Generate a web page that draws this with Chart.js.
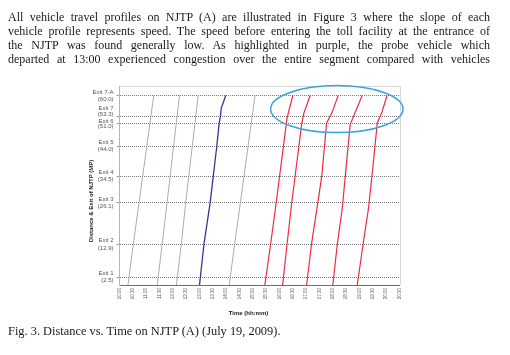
<!DOCTYPE html>
<html><head><meta charset="utf-8">
<script src="https://cdn.jsdelivr.net/npm/chart.js@4/dist/chart.umd.min.js"></script>
<style>
html,body{margin:0;padding:0;background:#fff;width:510px;height:355px;overflow:hidden;}
#para{position:absolute;left:8px;top:9.5px;width:482px;font-family:"Liberation Serif","Times New Roman",serif;font-size:12px;line-height:14.2px;color:#1a1a1a;}
#para div{text-align:justify;text-align-last:justify;}
#cap{position:absolute;left:8px;top:323.8px;font-family:"Liberation Serif","Times New Roman",serif;font-size:12.4px;line-height:14.2px;color:#1a1a1a;white-space:nowrap;}
#c{position:absolute;left:0;top:0;}
</style></head>
<body>
<canvas id="c" width="510" height="355"></canvas>
<div id="para">
<div>All vehicle travel profiles on NJTP (A) are illustrated in Figure 3 where the slope of each</div>
<div>vehicle profile represents speed. The speed before entering the toll facility at the entrance of</div>
<div>the NJTP was found generally low. As highlighted in purple, the probe vehicle which</div>
<div>departed at 13:00 experienced congestion over the entire segment compared with vehicles</div>
</div>
<div id="cap">Fig. 3. Distance vs. Time on NJTP (A) (July 19, 2009).</div>
<script>
// Exits (milepost) on the y axis
const exitNames = ['Exit 1','Exit 2','Exit 3','Exit 4','Exit 5','Exit 6','Exit 7','Exit 7-A'];
const exitMiles = [2.5, 12.9, 26.1, 34.5, 44.0, 51.0, 53.3, 60.0];
// Time tick labels on the x axis
const timeTickLabels = ['10:00','10:30','11:00','11:30','12:00','12:30','13:00','13:30','14:00','14:30','15:00','15:30','16:00','16:30','17:00','17:30','18:00','18:30','19:00','19:30','20:00','20:30'];
// Vehicle profiles: [milepost, time in minutes after midnight]
const grey1  = [[0,619],[12.9,631],[26.1,644],[60,677]];
const grey2  = [[0,685],[12.9,696],[26.1,707],[60,735]];
const grey3  = [[0,728],[12.9,739],[26.1,749],[60,777]];
const probe13 = [[0,780],[12.9,790],[26.1,804],[34.5,811],[44,819],[51,824],[53.3,827],[56,829],[60,839]];
const grey4  = [[0,847],[12.9,859],[26.1,872],[60,905]];
const red1 = [[0,927],[12.9,940],[25.4,952],[52.9,977],[60,990]];
const red2 = [[0,967],[12.9,977],[25.4,987],[51,1010],[54.5,1015],[60,1029]];
const red3 = [[0,1021],[12.9,1032],[24,1044],[34.4,1055],[51.3,1066],[54.5,1078],[60,1092]];
const red4 = [[0,1080],[12.9,1090],[24,1101],[34.4,1108],[50.8,1119],[54.5,1130],[60,1146]];
const red5 = [[0,1135],[12.9,1148],[24,1160],[34.4,1168],[51.3,1180],[54.5,1190],[60,1202]];
// highlight ellipse (time centre, mile centre, time half-width, mile half-height)
const highlight = {t:1089, mile:55.7, dt:149, dm:7.45};

const toMin = s => { const p = s.split(':').map(Number); return p[0]*60 + p[1]; };
const pts = arr => arr.map(([m,t]) => ({x:t, y:m}));

const GREY = '#a9a9c3', PURPLE = '#3f2f98', RED = '#ee2b3f';
const mk = (arr, color, w) => ({data: pts(arr), borderColor: color, borderWidth: w, pointRadius: 0, tension: 0, fill: false});

// the two closely spaced exits (7 and 6) have their labels nudged apart
const yLabel = (i) => {
  const lines = [exitNames[i], '(' + exitMiles[i].toFixed(1) + ')'];
  if (exitNames[i] === 'Exit 7') return lines.concat(['', '']);
  return lines;
};
const tightLabel = (i) => exitNames[i] === 'Exit 7' || exitNames[i] === 'Exit 6';

const extras = {
  id: 'extras',
  beforeDatasetsDraw(chart) {
    const {ctx, chartArea: a} = chart;
    ctx.save();
    ctx.strokeStyle = '#d6d6d6'; ctx.lineWidth = 1;
    ctx.beginPath();
    ctx.moveTo(Math.round(a.left), Math.round(a.top) + 0.5);
    ctx.lineTo(Math.round(a.right) + 0.5, Math.round(a.top) + 0.5);
    ctx.lineTo(Math.round(a.right) + 0.5, Math.round(a.bottom));
    ctx.stroke();
    ctx.restore();
  },
  afterDraw(chart) {
    const {ctx, chartArea: a, scales: {x, y}} = chart;
    ctx.save();
    const cx = x.getPixelForValue(highlight.t), cy = y.getPixelForValue(highlight.mile);
    const rx = x.getPixelForValue(highlight.t + highlight.dt) - cx;
    const ry = cy - y.getPixelForValue(highlight.mile + highlight.dm);
    ctx.strokeStyle = '#3aa6d8'; ctx.lineWidth = 1.5;
    ctx.beginPath(); ctx.ellipse(cx, cy, rx, ry, 0, 0, Math.PI*2); ctx.stroke();
    ctx.fillStyle = '#222';
    ctx.font = 'bold 6px "Liberation Sans", Arial, sans-serif';
    ctx.textAlign = 'center'; ctx.textBaseline = 'middle';
    ctx.fillText('Time (hh:mm)', (a.left + a.right)/2 - 11, 313);
    ctx.translate(91, 201); ctx.rotate(-Math.PI/2);
    ctx.fillText('Distance & Exit of NJTP (MP)', 0, 0);
    ctx.restore();
  }
};

new Chart(document.getElementById('c'), {
  type: 'line',
  data: {datasets: [
    mk(grey1, GREY, 1), mk(grey2, GREY, 1), mk(grey3, GREY, 1),
    mk(probe13, PURPLE, 1.3), mk(grey4, GREY, 1),
    mk(red1, RED, 1.2), mk(red2, RED, 1.2), mk(red3, RED, 1.2), mk(red4, RED, 1.2), mk(red5, RED, 1.2)
  ]},
  options: {
    responsive: false, animation: false, devicePixelRatio: 1,
    layout: {padding: {left: 88.5, right: 110.5, top: 86, bottom: 50}},
    plugins: {legend: {display: false}, tooltip: {enabled: false}},
    scales: {
      x: {
        type: 'linear', min: toMin('10:00'), max: toMin('20:30'),
        afterBuildTicks: s => { s.ticks = timeTickLabels.map(l => ({value: toMin(l)})); },
        afterFit: s => { s.height = 20; },
        ticks: {autoSkip: false, minRotation: 90, maxRotation: 90, padding: 3, color: '#555',
          font: {size: 4.5, family: '"Liberation Sans", Arial, sans-serif'},
          callback: (v, i) => timeTickLabels[i]},
        grid: {drawOnChartArea: false, drawTicks: false},
        border: {display: true, color: '#6e6e6e', width: 1}
      },
      y: {
        type: 'linear', min: 0, max: 63,
        afterBuildTicks: s => { s.ticks = exitMiles.map(v => ({value: v})); },
        afterFit: s => { s.width = 31; },
        ticks: {autoSkip: false, padding: 3, color: '#555',
          font: (ctx) => ({size: 6, family: '"Liberation Sans", Arial, sans-serif',
            lineHeight: (ctx.index !== undefined && tightLabel(ctx.index)) ? '5.5px' : 1.2}),
          callback: (v, i) => yLabel(i)},
        grid: {color: '#7a7a7a', lineWidth: 1, drawTicks: true, tickLength: 3, tickColor: '#9a9a9a'},
        border: {display: true, color: '#b5b5b5', width: 1, dash: [1, 1]}
      }
    }
  },
  plugins: [extras]
});
</script>
</body></html>
